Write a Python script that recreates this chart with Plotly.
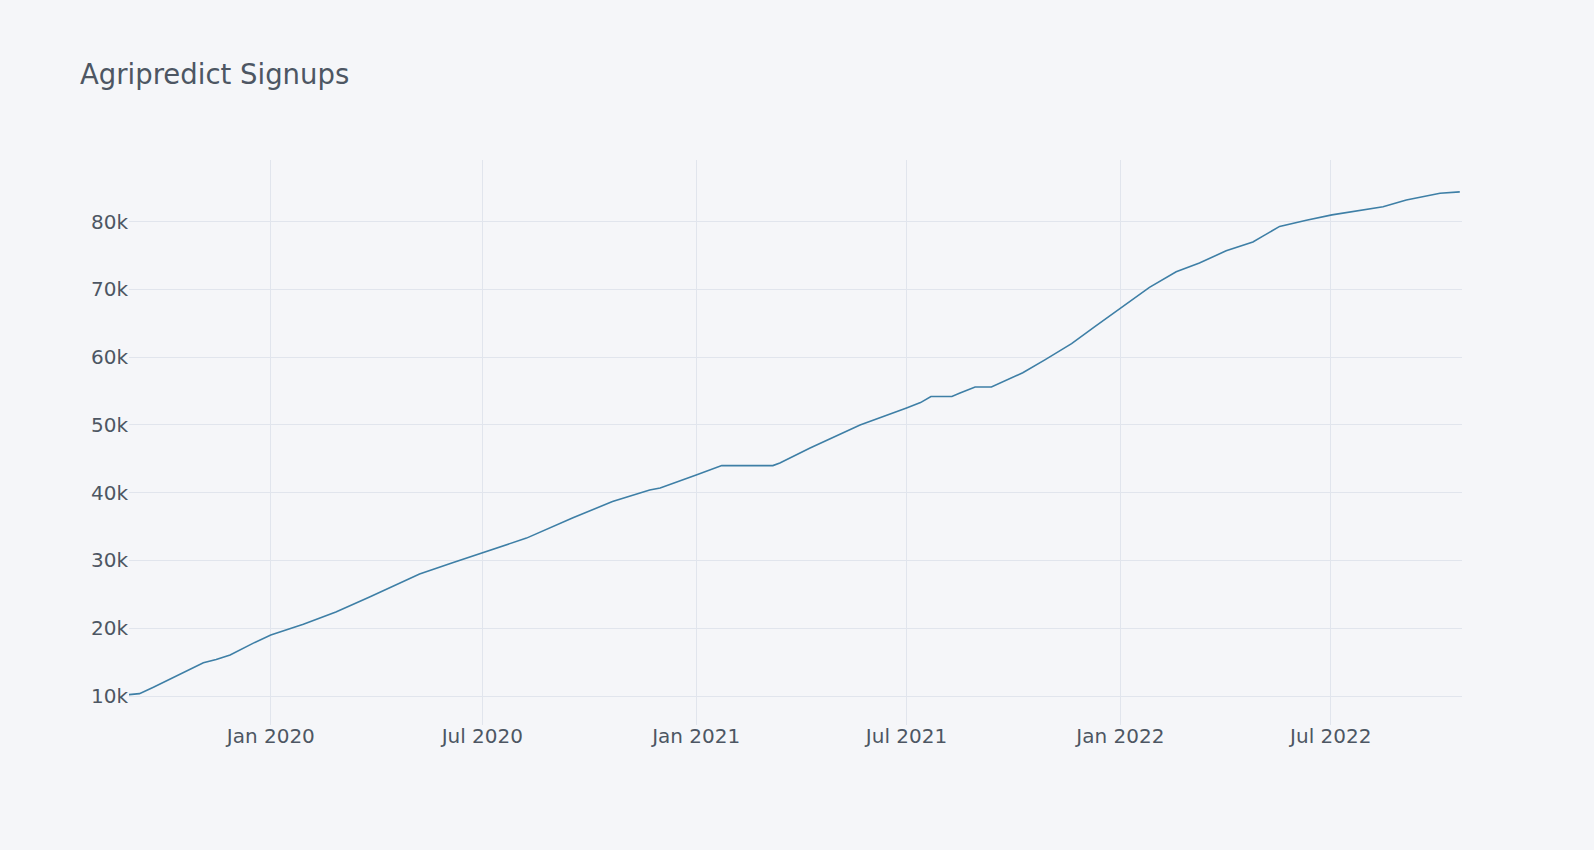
import plotly.graph_objects as go

dates = [
    "2019-09-01", "2019-09-10", "2019-09-22", "2019-10-06", "2019-10-20",
    "2019-11-04", "2019-11-15", "2019-11-27", "2019-12-17", "2020-01-01",
    "2020-01-29", "2020-02-26", "2020-03-26", "2020-05-08", "2020-06-06",
    "2020-07-01", "2020-08-08", "2020-09-17", "2020-10-21", "2020-11-22",
    "2020-12-01", "2021-01-01", "2021-01-23", "2021-03-08", "2021-03-14",
    "2021-04-09", "2021-05-22", "2021-07-01", "2021-07-13", "2021-07-22",
    "2021-08-09", "2021-08-16", "2021-08-29", "2021-09-12", "2021-09-28",
    "2021-10-09", "2021-10-28", "2021-11-20", "2021-12-10", "2022-01-01",
    "2022-01-26", "2022-02-18", "2022-03-10", "2022-04-02", "2022-04-25",
    "2022-05-04", "2022-05-18", "2022-06-10", "2022-07-02", "2022-08-15",
    "2022-09-04", "2022-10-03", "2022-10-20",
]
signups = [
    10200, 10350, 11300, 12500, 13700,
    14900, 15400, 16050, 17800, 19000,
    20600, 22400, 24600, 28000, 29700,
    31100, 33300, 36300, 38700, 40400,
    40700, 42600, 44000, 44000, 44400,
    46600, 50000, 52500, 53300, 54200,
    54200, 54700, 55600, 55600, 56900,
    57700, 59600, 62000, 64500, 67200,
    70300, 72600, 73900, 75700, 77000,
    77900, 79300, 80200, 81000, 82200,
    83200, 84200, 84400,
]

title_text = "Agripredict Signups"

fig = go.Figure()
fig.add_trace(go.Scatter(
    x=dates, y=signups, mode="lines",
    line=dict(color="#3e7fa6", width=1.6),
    name="Signups",
))

fig.update_layout(
    width=1594, height=850,
    paper_bgcolor="#F5F6F9", plot_bgcolor="#F5F6F9",
    font=dict(family="DejaVu Sans", color="#4D5663", size=20),
    margin=dict(l=129, r=132, t=160, b=125),
    showlegend=False,
    title=dict(text=title_text, x=80 / 1594, xanchor="left", xref="container",
               y=1 - 74 / 850, yanchor="middle", yref="container",
               font=dict(size=27.5, color="#4D5663")),
    xaxis=dict(
        type="date", range=["2019-09-01", "2022-10-21 22:00"],
        tick0="2020-01-01", dtick="M6", tickformat="%b %Y",
        showgrid=True, gridcolor="#E1E5ED", gridwidth=1,
        zeroline=False, showline=False, ticks="",
        ticklabelstandoff=-3,
        tickfont=dict(size=20, color="#4D5663"),
    ),
    yaxis=dict(
        range=[5720, 89100], tick0=0, dtick=10000,
        showgrid=True, gridcolor="#E1E5ED", gridwidth=1,
        zeroline=False, showline=False, ticks="",
        tickfont=dict(size=20, color="#4D5663"),
    ),
)

fig.write_html(
    "out.html",
    config={"displayModeBar": False},
    post_script="document.body.style.margin='0';document.body.style.overflow='hidden';",
)
